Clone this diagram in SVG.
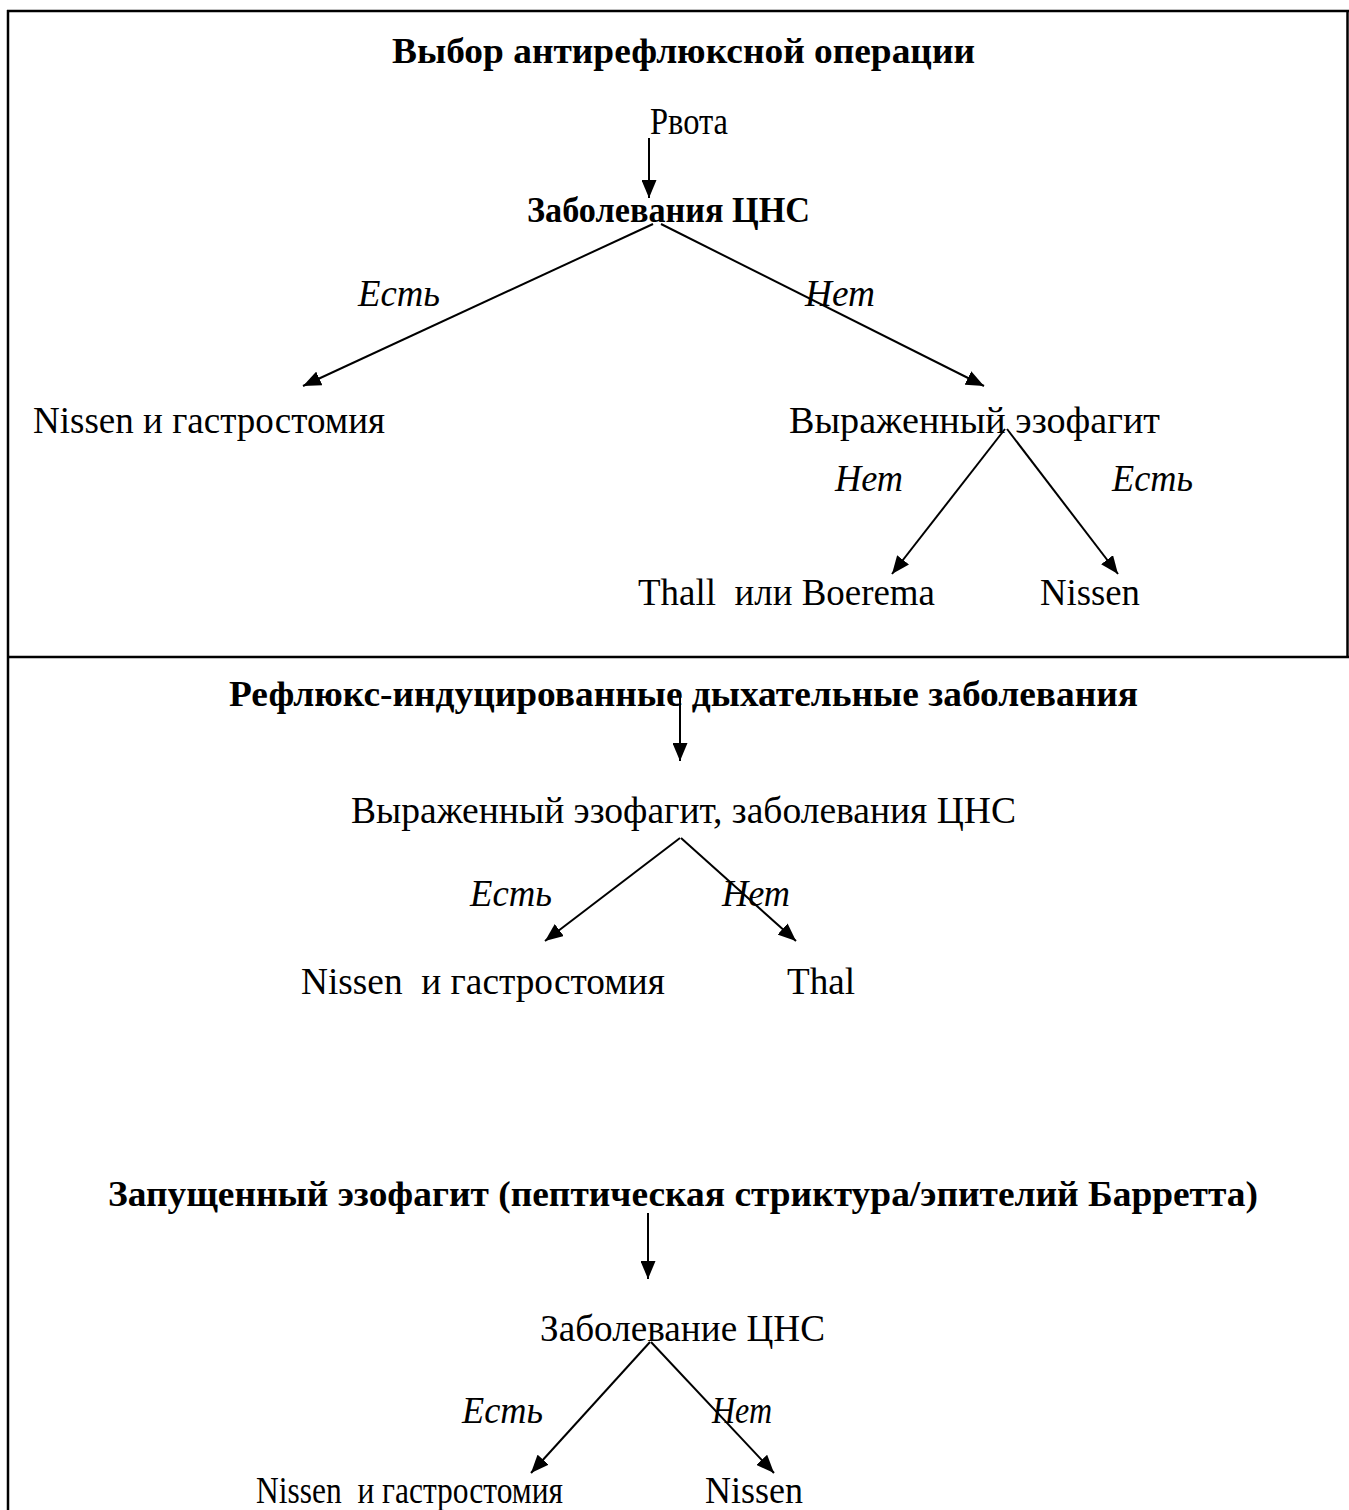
<svg xmlns="http://www.w3.org/2000/svg" width="1349" height="1510" viewBox="0 0 1349 1510">
<defs>
<style>
text{font-family:"Liberation Serif","Times New Roman",serif;fill:#000}
.t{font-size:37px}
.b{font-size:35px;font-weight:bold}
.i{font-size:37px;font-style:italic}
.c{stroke:#000;stroke-width:2;fill:none;marker-end:url(#ah)}
.f{stroke:#000;stroke-width:2.5;fill:none}
</style>
<marker id="ah" markerUnits="userSpaceOnUse" markerWidth="19" markerHeight="15" refX="18" refY="7.5" orient="auto">
<path d="M0,0 L18,7.5 L0,15 z" fill="#000"/>
</marker>
</defs>
<rect width="1349" height="1510" fill="#fff"/>
<g id="frame">
<line class="f" x1="7" y1="11" x2="1349" y2="11"/>
<line class="f" x1="8" y1="10" x2="8" y2="1510"/>
<line class="f" x1="1347.5" y1="10" x2="1347.5" y2="657"/>
<line class="f" x1="7" y1="657" x2="1349" y2="657"/>
</g>
<g id="connectors">
<line class="c" x1="649" y1="138" x2="649" y2="198"/>
<line class="c" x1="653" y1="224" x2="303" y2="386"/>
<line class="c" x1="661" y1="224" x2="984" y2="386"/>
<line class="c" x1="1005" y1="429" x2="892" y2="574"/>
<line class="c" x1="1007" y1="429" x2="1118" y2="574"/>
<line class="c" x1="680" y1="695" x2="680" y2="761"/>
<line class="c" x1="680" y1="838" x2="545" y2="941"/>
<line class="c" x1="681" y1="838" x2="796" y2="941"/>
<line class="c" x1="648" y1="1213" x2="648" y2="1279"/>
<line class="c" x1="650" y1="1342" x2="531" y2="1473"/>
<line class="c" x1="651" y1="1342" x2="774" y2="1473"/>
</g>
<g id="n-title"><text class="b" x="392" y="63" textLength="583" lengthAdjust="spacingAndGlyphs">Выбор антирефлюксной операции</text></g>
<g id="n-rvota"><text class="t" x="650" y="134" textLength="78" lengthAdjust="spacingAndGlyphs">Рвота</text></g>
<g id="n-cns1"><text class="b" x="527" y="222" textLength="283" lengthAdjust="spacingAndGlyphs">Заболевания ЦНС</text></g>
<g id="l-est1"><text class="i" x="358" y="306" textLength="82" lengthAdjust="spacingAndGlyphs">Есть</text></g>
<g id="l-net1"><text class="i" x="805" y="306" textLength="70" lengthAdjust="spacingAndGlyphs">Нет</text></g>
<g id="n-nissen-g1"><text class="t" x="33" y="433" textLength="352" lengthAdjust="spacingAndGlyphs">Nissen и гастростомия</text></g>
<g id="n-ezo1"><text class="t" x="789" y="433" textLength="371" lengthAdjust="spacingAndGlyphs">Выраженный эзофагит</text></g>
<g id="l-net2"><text class="i" x="835" y="491" textLength="68" lengthAdjust="spacingAndGlyphs">Нет</text></g>
<g id="l-est2"><text class="i" x="1112" y="491" textLength="81" lengthAdjust="spacingAndGlyphs">Есть</text></g>
<g id="n-thall"><text class="t" x="638" y="605" textLength="297" lengthAdjust="spacingAndGlyphs" xml:space="preserve">Thall  или Boerema</text></g>
<g id="n-nissen1"><text class="t" x="1040" y="605" textLength="100" lengthAdjust="spacingAndGlyphs">Nissen</text></g>
<g id="n-reflux"><text class="b" x="229" y="706" textLength="909" lengthAdjust="spacingAndGlyphs">Рефлюкс-индуцированные дыхательные заболевания</text></g>
<g id="n-ezo2"><text class="t" x="351" y="823" textLength="665" lengthAdjust="spacingAndGlyphs">Выраженный эзофагит, заболевания ЦНС</text></g>
<g id="l-est3"><text class="i" x="470" y="906" textLength="82" lengthAdjust="spacingAndGlyphs">Есть</text></g>
<g id="l-net3"><text class="i" x="722" y="906" textLength="68" lengthAdjust="spacingAndGlyphs">Нет</text></g>
<g id="n-nissen-g2"><text class="t" x="301" y="994" textLength="364" lengthAdjust="spacingAndGlyphs" xml:space="preserve">Nissen  и гастростомия</text></g>
<g id="n-thal"><text class="t" x="787" y="994" textLength="68" lengthAdjust="spacingAndGlyphs">Thal</text></g>
<g id="n-zapush"><text class="b" x="108" y="1206" textLength="1150" lengthAdjust="spacingAndGlyphs">Запущенный эзофагит (пептическая стриктура/эпителий Барретта)</text></g>
<g id="n-cns2"><text class="t" x="540" y="1341" textLength="285" lengthAdjust="spacingAndGlyphs">Заболевание ЦНС</text></g>
<g id="l-est4"><text class="i" x="462" y="1423" textLength="81" lengthAdjust="spacingAndGlyphs">Есть</text></g>
<g id="l-net4"><text class="i" x="712" y="1423" textLength="60" lengthAdjust="spacingAndGlyphs">Нет</text></g>
<g id="n-nissen-g3"><text class="t" x="256" y="1503" textLength="307" lengthAdjust="spacingAndGlyphs" xml:space="preserve">Nissen  и гастростомия</text></g>
<g id="n-nissen2"><text class="t" x="705" y="1503" textLength="98" lengthAdjust="spacingAndGlyphs">Nissen</text></g>
</svg>
